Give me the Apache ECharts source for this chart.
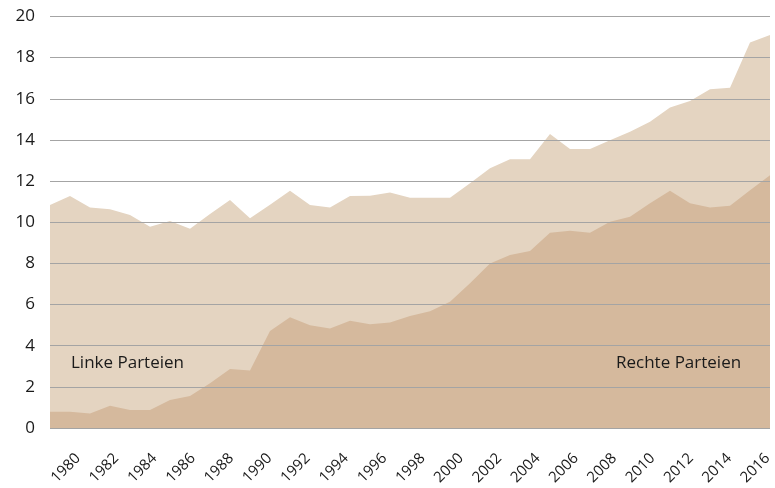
<!DOCTYPE html>
<html>
<head>
<meta charset="utf-8">
<script src="https://cdn.jsdelivr.net/npm/echarts@6/dist/echarts.min.js"></script>
<style>
  html, body { margin: 0; padding: 0; background: #fff; }
  #chart { width: 775px; height: 488px; }
</style>
</head>
<body>
<div id="chart"></div>
<script>
// Jahre 1980-2016
const years = [];
for (let y = 1980; y <= 2016; y++) years.push(String(y));

// Beschriftung der x-Achse (jedes zweite Jahr)
const yearLabels = years.filter((y, i) => i % 2 === 0);

// Linke Parteien (helle Fläche)
const linke = [
  10.84, 11.27, 10.72, 10.63, 10.35, 9.78, 10.06, 9.69, 10.4, 11.08,
  10.19, 10.85, 11.53, 10.84, 10.72, 11.27, 11.29, 11.45, 11.19, 11.19,
  11.19, 11.89, 12.62, 13.06, 13.06, 14.29, 13.56, 13.56, 13.99, 14.4,
  14.88, 15.58, 15.89, 16.46, 16.54, 18.74, 19.1
];

// Rechte Parteien (dunkle Fläche)
const rechte = [
  0.79, 0.79, 0.71, 1.08, 0.87, 0.87, 1.36, 1.55, 2.17, 2.87,
  2.79, 4.71, 5.38, 5.0, 4.84, 5.21, 5.04, 5.13, 5.44, 5.68,
  6.14, 7.03, 8.0, 8.41, 8.6, 9.49, 9.59, 9.49, 10.02, 10.27,
  10.92, 11.53, 10.92, 10.72, 10.8, 11.56, 12.29
];

const yTicks = { min: 0, max: 20, interval: 2 };

const chart = echarts.init(document.getElementById('chart'));
const font = 'Open Sans';

const option = {
  animation: false,
  grid: [
    { left: 50, right: 5, top: 16.5, bottom: 60 },
    // nur für die Jahresbeschriftung
    { left: 78, right: 2, top: 16.5, bottom: 60 }
  ],
  xAxis: [
    {
      type: 'category', gridIndex: 0, data: years, boundaryGap: false,
      axisLine: { show: false }, axisTick: { show: false }, axisLabel: { show: false }
    },
    {
      type: 'category', gridIndex: 1, data: yearLabels, boundaryGap: false,
      axisLine: { show: false }, axisTick: { show: false },
      axisLabel: { rotate: 45, margin: 28, color: '#1a1a1a', fontSize: 15, fontFamily: font, interval: 0 }
    }
  ],
  yAxis: [
    {
      type: 'value', gridIndex: 0, min: yTicks.min, max: yTicks.max, interval: yTicks.interval, z: 5,
      axisLine: { show: false }, axisTick: { show: false },
      axisLabel: { margin: 15, color: '#1a1a1a', fontSize: 17, fontFamily: font },
      splitLine: { lineStyle: { color: '#a4a4a4', width: 1 } }
    },
    { type: 'value', gridIndex: 1, show: false, min: 0, max: 20 }
  ],
  series: [
    {
      name: 'Linke Parteien', type: 'line', data: linke, symbol: 'none',
      lineStyle: { width: 0 }, areaStyle: { color: '#e4d4c1', opacity: 1 }, z: 1
    },
    {
      name: 'Rechte Parteien', type: 'line', data: rechte, symbol: 'none',
      lineStyle: { width: 0 }, areaStyle: { color: '#d5b99d', opacity: 1 }, z: 2
    }
  ],
  graphic: [
    { type: 'text', left: 71, top: 355, z: 10,
      style: { text: 'Linke Parteien', fontSize: 17, fontFamily: font, fill: '#1a1a1a' } },
    { type: 'text', left: 616, top: 355, z: 10,
      style: { text: 'Rechte Parteien', fontSize: 17, fontFamily: font, fill: '#1a1a1a' } }
  ]
};

chart.setOption(option);
</script>
</body>
</html>
